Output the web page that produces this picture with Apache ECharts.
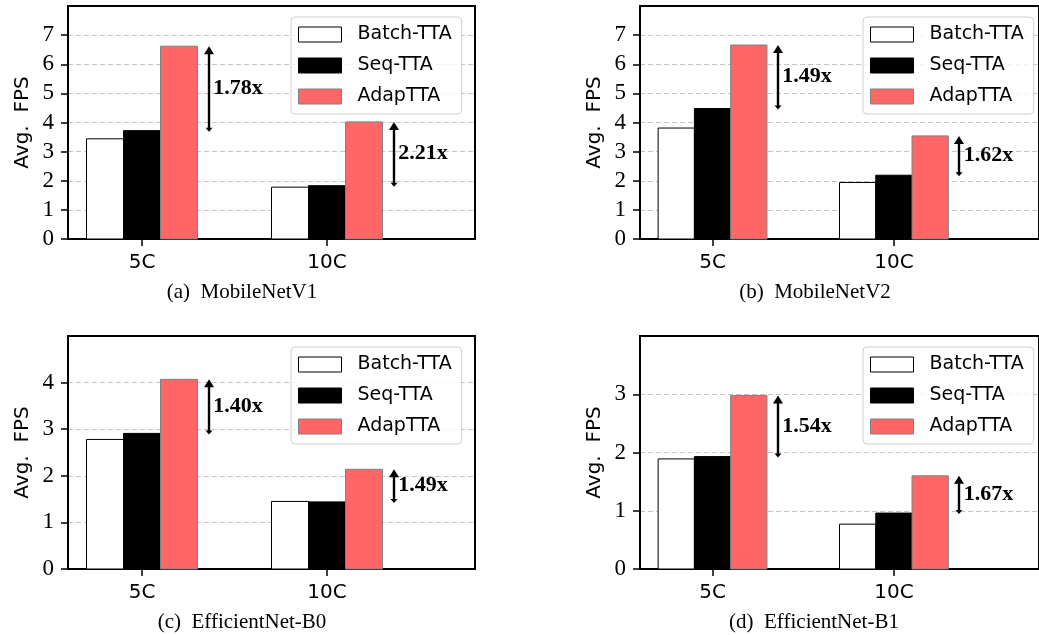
<!DOCTYPE html>
<html>
<head>
<meta charset="utf-8">
<title>Avg. FPS</title>
<script src="https://cdn.jsdelivr.net/npm/echarts@6/dist/echarts.min.js"></script>
<style>
  html, body { margin: 0; padding: 0; background: #fff; }
  #chart { width: 1039px; height: 635px; }
</style>
</head>
<body>
<div id="chart"></div>
<script>
// --- data ---
const categories = ['5C', '10C'];
const seriesNames = ['Batch-TTA', 'Seq-TTA', 'AdapTTA'];
const captions = ['(a)  MobileNetV1', '(b)  MobileNetV2', '(c)  EfficientNet-B0', '(d)  EfficientNet-B1'];

const yMax = [8, 8, 5, 4];
const yTicks = [
  [0, 1, 2, 3, 4, 5, 6, 7],
  [0, 1, 2, 3, 4, 5, 6, 7],
  [0, 1, 2, 3, 4],
  [0, 1, 2, 3]
];

// one row per panel, one value per category
const batchTTA = [[3.44, 1.78], [3.81, 1.94], [2.78, 1.45], [1.89, 0.77]];
const seqTTA   = [[3.72, 1.83], [4.48, 2.19], [2.91, 1.44], [1.93, 0.96]];
const adapTTA  = [[6.62, 4.02], [6.66, 3.54], [4.07, 2.14], [2.98, 1.60]];
const speedupLabels = [['1.78x', '2.21x'], ['1.49x', '1.62x'], ['1.40x', '1.49x'], ['1.54x', '1.67x']];

// --- layout / style ---
const gridBoxes = [
  { left: 68,  top: 6 },
  { left: 640, top: 6 },
  { left: 68,  top: 336 },
  { left: 640, top: 336 }
];
const legendPos = [[291, 17], [863, 17], [291, 347], [863, 347]];
const captionPos = [[242, 292], [815, 292], [242, 622], [814, 622]];

const barStyles = [
  { fill: '#ffffff', stroke: '#000000' },
  { fill: '#000000', stroke: '#000000' },
  { fill: '#ff6666', stroke: '#808080' }
];
const barOffsets = [-0.2, 0, 0.2];
const barHalf = 0.1;
const arrowOffset = 0.36;
const textOffset = 0.385;

const chart = echarts.init(document.getElementById('chart'));
const catIdx = categories.map((c, k) => k);
const valuesBySeries = [batchTTA, seqTTA, adapTTA];

const grid = [], xAxis = [], yAxis = [], series = [], legend = [], graphic = [];

gridBoxes.forEach((box, p) => {
  grid.push({
    left: box.left, top: box.top, width: 407, height: 233,
    show: true, borderColor: '#000', borderWidth: 2, backgroundColor: 'transparent'
  });

  xAxis.push({
    gridIndex: p, type: 'value', min: -0.4, max: 1.8,
    axisLine: { show: true, onZero: false, lineStyle: { color: '#000', width: 2 } },
    axisTick: { show: true, length: 7, lineStyle: { color: '#000', width: 1.5 }, customValues: catIdx },
    axisLabel: {
      customValues: catIdx,
      formatter: v => categories[Math.round(v)],
      margin: 14, fontFamily: 'DejaVu Sans', fontSize: 20, color: '#000'
    },
    splitLine: { show: false }
  });

  yAxis.push({
    gridIndex: p, type: 'value', min: 0, max: yMax[p], interval: 1,
    name: 'Avg.  FPS', nameLocation: 'middle', nameGap: 35,
    nameTextStyle: { fontFamily: 'DejaVu Sans', fontSize: 20, color: '#000' },
    axisLine: { show: true, onZero: false, lineStyle: { color: '#000', width: 2 } },
    axisTick: { show: true, length: 7, lineStyle: { color: '#000', width: 1.5 }, customValues: yTicks[p] },
    axisLabel: { customValues: yTicks[p], margin: 14, fontFamily: 'Liberation Serif', fontSize: 23, color: '#000' },
    splitLine: { show: true, lineStyle: { color: '#c4c4c4', type: [5, 3], width: 1.2 } }
  });

  // bars
  seriesNames.forEach((name, s) => {
    const st = barStyles[s];
    series.push({
      type: 'custom', name: name,
      xAxisIndex: p, yAxisIndex: p,
      itemStyle: { color: st.fill, borderColor: st.stroke, borderWidth: 1 },
      encode: { x: 0, y: 1 },
      data: catIdx.map(k => [k, valuesBySeries[s][p][k]]),
      renderItem: (params, api) => {
        const x = api.value(0) + barOffsets[s];
        const p0 = api.coord([x - barHalf, api.value(1)]);
        const p1 = api.coord([x + barHalf, 0]);
        return {
          type: 'rect',
          shape: { x: p0[0], y: p0[1], width: p1[0] - p0[0], height: p1[1] - p0[1] },
          style: { fill: st.fill, stroke: st.stroke, lineWidth: 1 }
        };
      }
    });
  });

  // speed-up arrows with labels
  series.push({
    type: 'custom', xAxisIndex: p, yAxisIndex: p, z: 5,
    encode: { x: 0, y: [1, 2] },
    data: catIdx.map(k => [k, seqTTA[p][k], adapTTA[p][k]]),
    renderItem: (params, api) => {
      const cat = api.value(0), lo = api.value(1), hi = api.value(2);
      const top = api.coord([cat + arrowOffset, hi]);
      const bot = api.coord([cat + arrowOffset, lo]);
      const mid = api.coord([cat + textOffset, (lo + hi) / 2]);
      const x = Math.round(top[0]);
      const yTop = top[1], yBot = bot[1] + 1;
      return {
        type: 'group',
        children: [
          { type: 'line', shape: { x1: x, y1: yTop + 6, x2: x, y2: yBot - 2 }, style: { stroke: '#000', lineWidth: 2.4 } },
          { type: 'polygon', shape: { points: [[x, yTop], [x - 5, yTop + 8], [x + 5, yTop + 8]] }, style: { fill: '#000' } },
          { type: 'polygon', shape: { points: [[x, yBot], [x - 3.5, yBot - 4], [x + 3.5, yBot - 4]] }, style: { fill: '#000' } },
          {
            type: 'text', x: mid[0], y: mid[1],
            style: {
              text: speedupLabels[p][params.dataIndex],
              fontFamily: 'Liberation Serif', fontWeight: 'bold', fontSize: 22,
              fill: '#000', align: 'left', verticalAlign: 'middle'
            }
          }
        ]
      };
    }
  });

  legend.push({
    orient: 'vertical', left: legendPos[p][0], top: legendPos[p][1],
    selectedMode: false,
    padding: [8, 10, 8, 7],
    itemWidth: 43, itemHeight: 15, itemGap: 12,
    backgroundColor: 'rgba(255,255,255,0.8)',
    borderColor: '#d0d0d0', borderWidth: 1, borderRadius: 4,
    textStyle: { fontFamily: 'DejaVu Sans', fontSize: 19, lineHeight: 19, color: '#000', padding: [0, 0, 0, 11] },
    data: seriesNames.map((name, s) => ({
      name: name, icon: 'rect',
      itemStyle: { color: barStyles[s].fill, borderColor: barStyles[s].stroke, borderWidth: 1 }
    }))
  });

  graphic.push({
    type: 'text', x: captionPos[p][0], y: captionPos[p][1],
    style: {
      text: captions[p], fontFamily: 'Liberation Serif', fontSize: 21, fill: '#000',
      align: 'center', verticalAlign: 'middle'
    }
  });
});

chart.setOption({
  animation: false,
  backgroundColor: '#fff',
  grid, xAxis, yAxis, series, legend, graphic
});
</script>
</body>
</html>
